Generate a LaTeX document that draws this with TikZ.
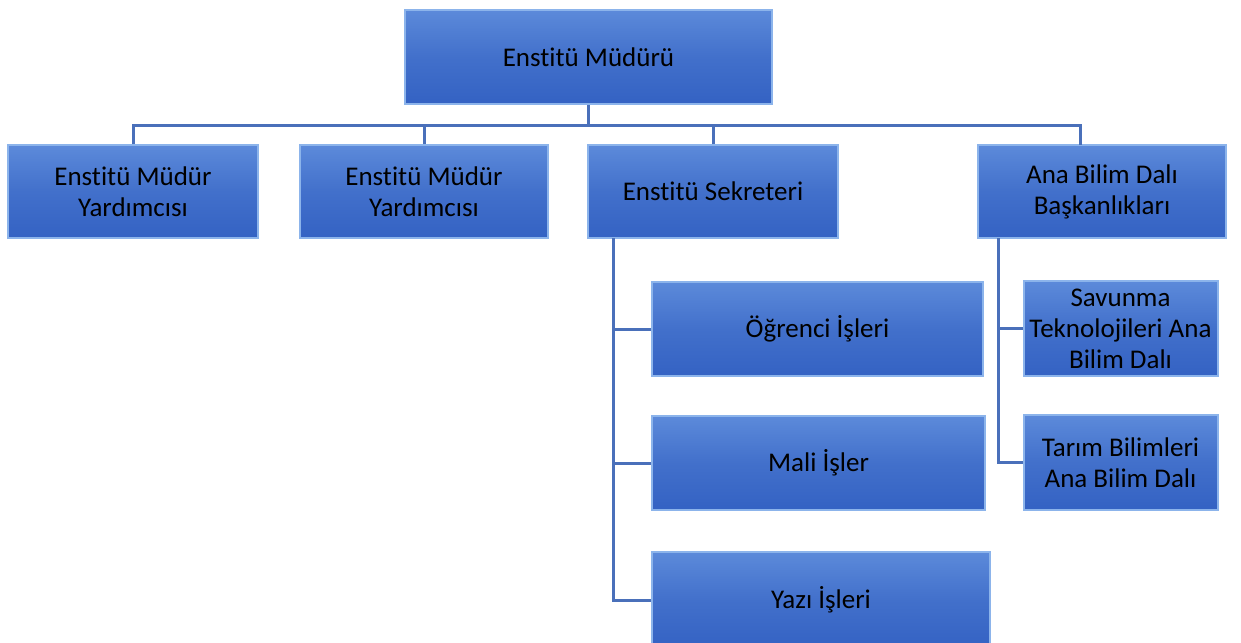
\documentclass[tikz,border=0pt]{standalone}
\usepackage{fontspec}
\setmainfont{Carlito}[Ligatures={NoCommon}]
\usetikzlibrary{calc}
\newcommand{\orgboxfont}{\fontsize{27}{31}\selectfont}
\definecolor{boxmid}{RGB}{66,112,203}
\definecolor{boxtop}{RGB}{92,138,218}
\definecolor{boxbot}{RGB}{52,98,195}
\definecolor{boxedge}{RGB}{140,180,235}
\definecolor{linecol}{RGB}{74,112,186}
\tikzset{
  orgbox/.style={rectangle, inner sep=2pt, top color=boxtop, bottom color=boxbot, middle color=boxmid,
    draw=boxedge, line width=2pt, align=flush center, text=black,
    font=\orgboxfont},
  conn/.style={draw=linecol, line width=3pt},
}
\begin{document}
\begin{tikzpicture}[x=1pt,y=-1pt]
\clip (0,0) rectangle (1241,642);
\fill[white] (0,0) rectangle (1241,642);
% boxes
\node[orgbox, minimum width=367, minimum height=94] (top) at (588.5,57) {Enstitü Müdürü};
\node[orgbox, minimum width=250, minimum height=93, text width=240] (a1) at (133,191.5) {Enstitü Müdür\\Yardımcısı};
\node[orgbox, minimum width=248, minimum height=93, text width=240] (a2) at (424,191.5) {Enstitü Müdür\\Yardımcısı};
\node[orgbox, minimum width=250, minimum height=93, text width=240] (sek) at (713,191.5) {Enstitü Sekreteri};
\node[orgbox, minimum width=248, minimum height=93, text width=240] (abd) at (1102,191.5) {Ana Bilim Dalı\\Başkanlıkları};
\node[orgbox, minimum width=331, minimum height=94, text width=320] (og) at (817.5,329) {Öğrenci İşleri};
\node[orgbox, minimum width=333, minimum height=94, text width=320] (mali) at (818.5,463) {Mali İşler};
\node[orgbox, minimum width=338, minimum height=96, text width=320] (yazi) at (821,600) {Yazı İşleri};
\node[orgbox, minimum width=191, minimum height=95, text width=190] (sav) at (1120.5,328.5) {Savunma\\Teknolojileri Ana\\Bilim Dalı};
\node[orgbox, minimum width=191, minimum height=95, text width=190] (tar) at (1120.5,462.5) {Tarım Bilimleri\\Ana Bilim Dalı};
% connectors
\coordinate (bus) at (588.5,125);
\coordinate (abdin) at (1080,145);
\coordinate (sekout) at (613,238);
\coordinate (abdout) at (998,238);
\draw[conn] (top.south) -- (bus);
\draw[conn] (a1.north) |- (bus);
\draw[conn] (a2.north) |- (bus);
\draw[conn] (sek.north) |- (bus);
\draw[conn] (bus) -| (abdin);
\draw[conn] (sekout) |- (og.west);
\draw[conn] (sekout) |- (mali.west);
\draw[conn] (sekout) |- (yazi.west);
\draw[conn] (abdout) |- (sav.west);
\draw[conn] (abdout) |- (tar.west);
\end{tikzpicture}
\end{document}
